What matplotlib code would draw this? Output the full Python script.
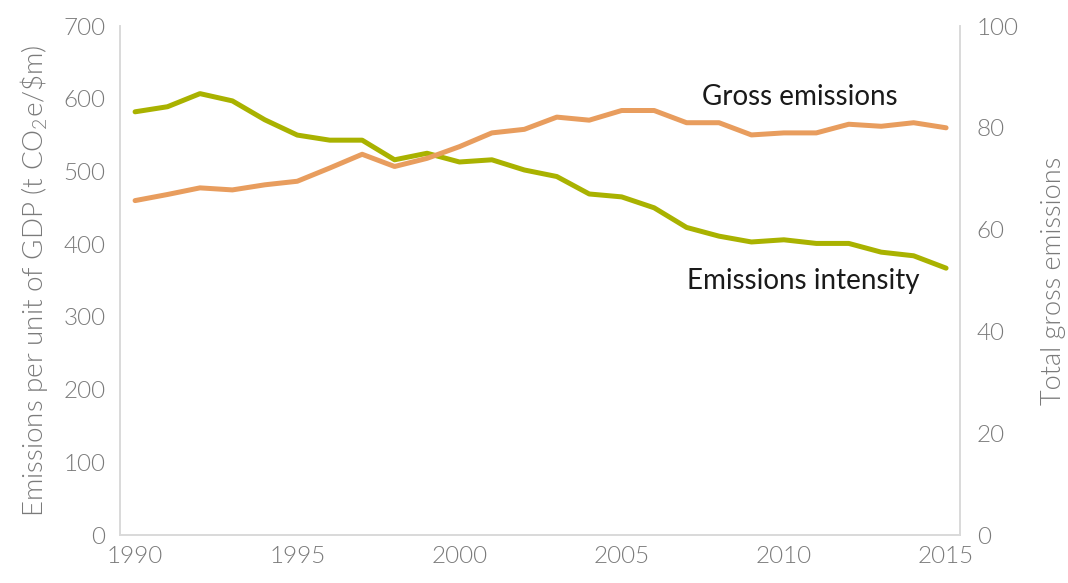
import matplotlib
matplotlib.use("Agg")
import matplotlib.pyplot as plt

plt.rcParams['font.family'] = ['Lato', 'DejaVu Sans']
plt.rcParams['mathtext.fontset'] = 'custom'
plt.rcParams['mathtext.rm'] = 'Lato:weight=300'
plt.rcParams['mathtext.it'] = 'Lato:italic'

years = list(range(1990, 2016))
# emissions intensity, t CO2e per $m GDP (left axis)
intensity = [582, 589, 607, 597, 571, 550, 543, 543, 516, 525, 513, 516, 502,
             493, 469, 465, 450, 423, 411, 403, 406, 401, 401, 389, 384, 367]
# total gross emissions (right axis)
gross = [65.7, 66.9, 68.2, 67.8, 68.8, 69.5, 72.1, 74.8, 72.4, 74.0, 76.3, 79.0, 79.7,
         82.1, 81.5, 83.4, 83.4, 81.0, 81.0, 78.6, 79.0, 79.0, 80.7, 80.3, 81.0, 80.0]

green = '#a9b200'
orange = '#e89d5e'
grey = '#7a7a7a'
spine_col = '#d9d9d9'

fig = plt.figure(figsize=(10.68, 5.83), dpi=100)
ax = fig.add_axes([0.1119, 0.0823, 0.787, 0.8731])
ax2 = ax.twinx()

ax.plot(years, intensity, color=green, lw=3.6, solid_capstyle='round', zorder=3)
ax2.plot(years, gross, color=orange, lw=3.6, solid_capstyle='round', zorder=2)

ax.set_xlim(1989.52, 2015.43)
ax.set_ylim(0, 700)
ax2.set_ylim(0, 100)
ax.set_xticks(range(1990, 2016, 5))
ax.set_yticks(range(0, 701, 100))
ax2.set_yticks(range(0, 101, 20))

for a in (ax, ax2):
    a.tick_params(length=0, labelsize=17.5, labelcolor=grey)
    for lbl in a.get_xticklabels() + a.get_yticklabels():
        lbl.set_fontweight(300)
    for s in a.spines.values():
        s.set_color(spine_col)
        s.set_linewidth(1.2)
    a.spines['top'].set_visible(False)
ax.tick_params(axis='x', pad=8)
ax.tick_params(axis='y', pad=10)
ax2.tick_params(axis='y', pad=12)

ax.set_ylabel('Emissions per unit of GDP (t CO$_2$e/\\$m)', fontsize=20, color=grey,
              labelpad=10, fontweight=300)
ax2.set_ylabel('Total gross emissions', fontsize=19.5, color=grey, labelpad=16,
               fontweight=300)

ax.text(2010.5, 602, 'Gross emissions', fontsize=20, color='#1a1a1a', ha='center', va='center')
ax.text(2010.6, 350, 'Emissions intensity', fontsize=20, color='#1a1a1a', ha='center', va='center')

fig.savefig('out.png', dpi=100)
